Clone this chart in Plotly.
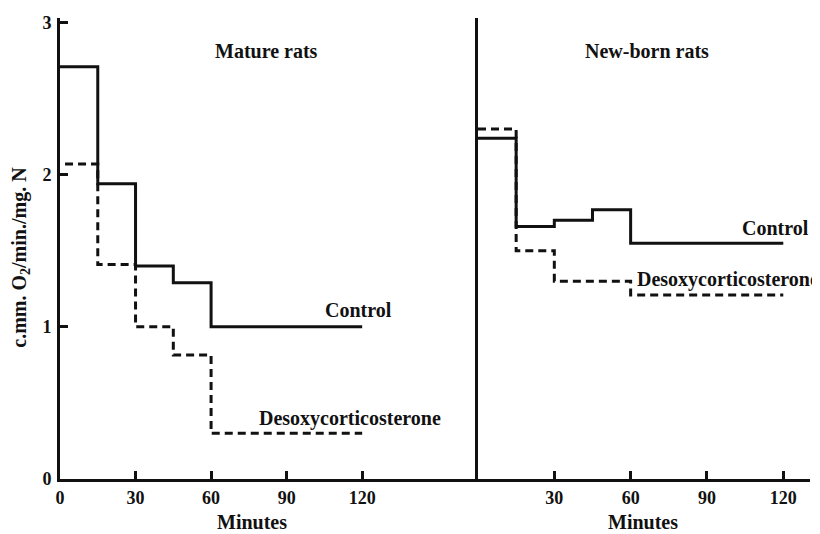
import plotly.graph_objects as go

minutes = [0, 15, 30, 45, 60, 120]
mature_control = [2.71, 1.94, 1.40, 1.29, 1.00, 1.00]
mature_doc = [2.07, 1.41, 1.00, 0.815, 0.30, 0.30]
newborn_control = [2.24, 1.66, 1.70, 1.77, 1.55, 1.55]
newborn_doc = [2.30, 1.50, 1.30, 1.30, 1.21, 1.21]
x_ticks_left = [0, 30, 60, 90, 120]
x_ticks_right = [30, 60, 90, 120]
y_ticks = [0, 1, 2, 3]

FONT = "Liberation Serif"
INK = "#111111"

fig = go.Figure()
fig.add_trace(go.Scatter(x=minutes, y=mature_control, mode="lines", line_shape="hv",
                         line=dict(color=INK, width=3), xaxis="x", yaxis="y"))
fig.add_trace(go.Scatter(x=[2] + minutes[1:], y=mature_doc, mode="lines", line_shape="hv",
                         line=dict(color=INK, width=3, dash="8px,5px"), xaxis="x", yaxis="y"))
fig.add_trace(go.Scatter(x=minutes, y=newborn_control, mode="lines", line_shape="hv",
                         line=dict(color=INK, width=3), xaxis="x2", yaxis="y2"))
fig.add_trace(go.Scatter(x=minutes, y=newborn_doc, mode="lines", line_shape="hv",
                         line=dict(color=INK, width=3, dash="8px,5px"), xaxis="x2", yaxis="y2"))

split = 418 / 750
tickfont = dict(family=FONT, size=18, color=INK, weight="bold")
common_x = dict(showline=True, linewidth=3, linecolor=INK, ticks="inside", ticklen=8,
                tickwidth=3, tickcolor=INK, showgrid=False, zeroline=False, tickfont=tickfont,
                ticklabeloverflow="allow")

fig.update_layout(
    width=820, height=534,
    margin=dict(l=52, r=18, t=5, b=63),
    paper_bgcolor="white", plot_bgcolor="white",
    showlegend=False,
    font=dict(family=FONT, color=INK),
    xaxis=dict(domain=[0, split], range=[0, 166], tickvals=x_ticks_left,
               ticktext=[str(v) for v in x_ticks_left], **common_x),
    xaxis2=dict(domain=[split, 1], range=[0, 130.5], tickvals=x_ticks_right,
                ticktext=[str(v) for v in x_ticks_right], anchor="y2", **common_x),
    yaxis=dict(range=[0, 3.03], tickvals=y_ticks, ticktext=[str(v) for v in y_ticks],
               showline=True, linewidth=3, linecolor=INK, ticks="inside", ticklen=8,
               tickwidth=3, tickcolor=INK, showgrid=False, zeroline=False,
               tickfont=tickfont, ticklabelstandoff=2, ticklabeloverflow="allow"),
    yaxis2=dict(range=[0, 3.03], anchor="x2", showline=True, linewidth=3, linecolor=INK,
                showticklabels=False, ticks="", showgrid=False, zeroline=False),
)

ann_font = dict(family=FONT, size=20, color=INK, weight="bold")
def ann(text, x, y, xref, yref, **kw):
    fig.add_annotation(text=text, x=x, y=y, xref=xref, yref=yref, showarrow=False,
                       xanchor="center", yanchor="middle", font=ann_font, **kw)

ann("Mature rats", 0.493, 0.929, "x domain", "y domain")
ann("New-born rats", 0.509, 0.929, "x2 domain", "y2 domain")
ann("Control", 0.713, 0.367, "x domain", "y domain")
ann("Desoxycorticosterone", 0.694, 0.131, "x domain", "y domain")
ann("Control", 0.895, 0.545, "x2 domain", "y2 domain")
ann("Desoxycorticosterone", 0.752, 0.433, "x2 domain", "y2 domain")
ann("Minutes", 0.46, -0.094, "x domain", "paper")
ann("Minutes", 0.497, -0.094, "x2 domain", "paper")
ann("c.mm. O<sub>2</sub>/min./mg. N", -0.052, 0.48, "paper", "paper", textangle=-90)

fig.write_html("out.html")
